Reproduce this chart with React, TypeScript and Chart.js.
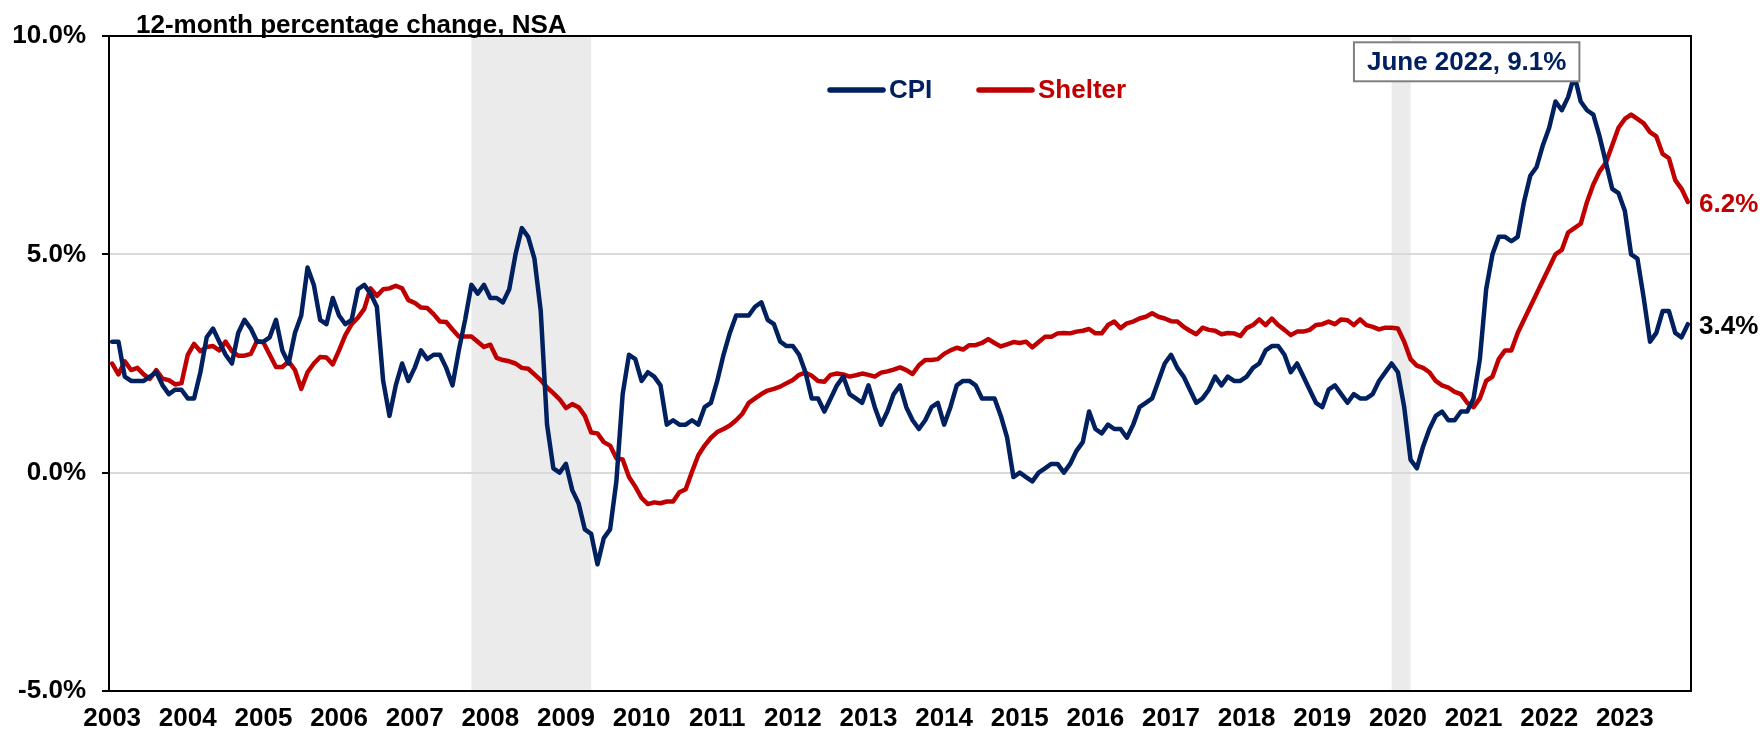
import React, { useEffect, useRef } from 'react';
import { Chart, registerables } from 'chart.js';

Chart.register(...registerables);

// ---------- DATA ----------
// Monthly observations, February 2003 through December 2023
const START_YEAR = 2003;
const START_MONTH = 2; // February

const cpiValues: number[] = [
  // 2003 (Feb-Dec)
  3.0, 3.0, 2.2, 2.1, 2.1, 2.1, 2.2, 2.3, 2.0, 1.8, 1.9,
  // 2004
  1.9, 1.7, 1.7, 2.3, 3.1, 3.3, 3.0, 2.7, 2.5, 3.2, 3.5, 3.3,
  // 2005
  3.0, 3.0, 3.1, 3.5, 2.8, 2.5, 3.2, 3.6, 4.7, 4.3, 3.5, 3.4,
  // 2006
  4.0, 3.6, 3.4, 3.5, 4.2, 4.3, 4.1, 3.8, 2.1, 1.3, 2.0, 2.5,
  // 2007
  2.1, 2.4, 2.8, 2.6, 2.7, 2.7, 2.4, 2.0, 2.8, 3.5, 4.3, 4.1,
  // 2008
  4.3, 4.0, 4.0, 3.9, 4.2, 5.0, 5.6, 5.4, 4.9, 3.7, 1.1, 0.1,
  // 2009
  0.0, 0.2, -0.4, -0.7, -1.3, -1.4, -2.1, -1.5, -1.3, -0.2, 1.8, 2.7,
  // 2010
  2.6, 2.1, 2.3, 2.2, 2.0, 1.1, 1.2, 1.1, 1.1, 1.2, 1.1, 1.5,
  // 2011
  1.6, 2.1, 2.7, 3.2, 3.6, 3.6, 3.6, 3.8, 3.9, 3.5, 3.4, 3.0,
  // 2012
  2.9, 2.9, 2.7, 2.3, 1.7, 1.7, 1.4, 1.7, 2.0, 2.2, 1.8, 1.7,
  // 2013
  1.6, 2.0, 1.5, 1.1, 1.4, 1.8, 2.0, 1.5, 1.2, 1.0, 1.2, 1.5,
  // 2014
  1.6, 1.1, 1.5, 2.0, 2.1, 2.1, 2.0, 1.7, 1.7, 1.7, 1.3, 0.8,
  // 2015
  -0.1, 0.0, -0.1, -0.2, 0.0, 0.1, 0.2, 0.2, 0.0, 0.2, 0.5, 0.7,
  // 2016
  1.4, 1.0, 0.9, 1.1, 1.0, 1.0, 0.8, 1.1, 1.5, 1.6, 1.7, 2.1,
  // 2017
  2.5, 2.7, 2.4, 2.2, 1.9, 1.6, 1.7, 1.9, 2.2, 2.0, 2.2, 2.1,
  // 2018
  2.1, 2.2, 2.4, 2.5, 2.8, 2.9, 2.9, 2.7, 2.3, 2.5, 2.2, 1.9,
  // 2019
  1.6, 1.5, 1.9, 2.0, 1.8, 1.6, 1.8, 1.7, 1.7, 1.8, 2.1, 2.3,
  // 2020
  2.5, 2.3, 1.5, 0.3, 0.1, 0.6, 1.0, 1.3, 1.4, 1.2, 1.2, 1.4,
  // 2021
  1.4, 1.7, 2.6, 4.2, 5.0, 5.4, 5.4, 5.3, 5.4, 6.2, 6.8, 7.0,
  // 2022
  7.5, 7.9, 8.5, 8.3, 8.6, 9.1, 8.5, 8.3, 8.2, 7.7, 7.1, 6.5,
  // 2023
  6.4, 6.0, 5.0, 4.9, 4.0, 3.0, 3.2, 3.7, 3.7, 3.2, 3.1, 3.4,
];

const shelterValues: number[] = [
  // 2003 (Feb-Dec)
  2.5, 2.25, 2.55, 2.35, 2.4, 2.25, 2.15, 2.35, 2.15, 2.12, 2.02,
  // 2004
  2.05, 2.7, 2.95, 2.78, 2.88, 2.9, 2.8, 3.0, 2.78, 2.68, 2.68, 2.72,
  // 2005
  3.02, 2.98, 2.7, 2.42, 2.42, 2.55, 2.35, 1.92, 2.3, 2.5, 2.65, 2.64,
  // 2006
  2.48, 2.8, 3.15, 3.4, 3.55, 3.75, 4.22, 4.05, 4.2, 4.22, 4.28, 4.22,
  // 2007
  3.95, 3.89, 3.78, 3.77, 3.63, 3.46, 3.45, 3.28, 3.12, 3.12, 3.12, 3.0,
  // 2008
  2.88, 2.93, 2.63, 2.58, 2.55, 2.5, 2.4, 2.38, 2.25, 2.12, 1.95, 1.82,
  // 2009
  1.68, 1.48, 1.57, 1.5, 1.3, 0.92, 0.9, 0.7, 0.62, 0.33, 0.3, -0.1,
  // 2010
  -0.32, -0.58, -0.72, -0.68, -0.7, -0.66, -0.66, -0.45, -0.38, 0.02, 0.4, 0.62,
  // 2011
  0.8, 0.93, 1.0, 1.08, 1.2, 1.35, 1.6, 1.7, 1.8, 1.88, 1.92, 1.97,
  // 2012
  2.05, 2.12, 2.24, 2.29, 2.22, 2.1, 2.08, 2.24, 2.27, 2.25, 2.2, 2.23,
  // 2013
  2.27, 2.24, 2.2, 2.29, 2.32, 2.36, 2.41, 2.35, 2.26, 2.46, 2.58, 2.58,
  // 2014
  2.6, 2.72, 2.8, 2.86, 2.82, 2.92, 2.92, 2.97, 3.06, 2.97, 2.89, 2.94,
  // 2015
  2.99, 2.97, 3.0, 2.87, 2.99, 3.11, 3.11, 3.19, 3.2, 3.19, 3.23, 3.25,
  // 2016
  3.29, 3.19, 3.19, 3.38, 3.46, 3.31, 3.42, 3.46, 3.53, 3.57, 3.65, 3.57,
  // 2017
  3.53, 3.47, 3.46, 3.34, 3.25, 3.17, 3.32, 3.27, 3.25, 3.17, 3.2, 3.19,
  // 2018
  3.13, 3.31, 3.38, 3.51, 3.38, 3.53, 3.38, 3.27, 3.15, 3.23, 3.23, 3.27,
  // 2019
  3.38, 3.4, 3.46, 3.4, 3.51, 3.49, 3.38, 3.51, 3.38, 3.34, 3.28, 3.32,
  // 2020
  3.32, 3.3, 3.0, 2.6, 2.45, 2.4, 2.3, 2.1, 2.0, 1.95, 1.85, 1.8,
  // 2021
  1.6, 1.5, 1.7, 2.1, 2.2, 2.6, 2.8, 2.8, 3.2, 3.5, 3.8, 4.1,
  // 2022
  4.4, 4.7, 5.0, 5.1, 5.5, 5.6, 5.7, 6.2, 6.6, 6.9, 7.1, 7.5,
  // 2023
  7.9, 8.1, 8.2, 8.1, 8.0, 7.8, 7.7, 7.3, 7.2, 6.7, 6.5, 6.2,
];

const yearLabels: string[] = [
  '2003', '2004', '2005', '2006', '2007', '2008', '2009', '2010', '2011', '2012', '2013',
  '2014', '2015', '2016', '2017', '2018', '2019', '2020', '2021', '2022', '2023',
];

// Recessions (shaded), [first month, last month] as "YYYY-MM"
const recessions: [string, string][] = [
  ['2007-12', '2009-06'],
  ['2020-02', '2020-04'],
];

const yTicks = { min: -5, max: 10, step: 5 };

const seriesNames = ['CPI', 'Shelter'];
const seriesColors = ['#002060', '#C00000'];
const titleText = '12-month percentage change, NSA';
const monthNames = ['January', 'February', 'March', 'April', 'May', 'June', 'July', 'August', 'September', 'October', 'November', 'December'];

// ---------- helpers ----------
const monthLabels: string[] = cpiValues.map((_, i) => {
  const m0 = START_MONTH - 1 + i;
  const y = START_YEAR + Math.floor(m0 / 12);
  const m = (m0 % 12) + 1;
  return `${y}-${String(m).padStart(2, '0')}`;
});
const monthIndex = (s: string) => monthLabels.indexOf(s);

const FONT = '"Liberation Sans", Arial, Helvetica, sans-serif';

const decorPlugin = {
  id: 'decor',
  beforeDraw(chart: any) {
    const { ctx, chartArea: a, scales } = chart;
    const x = scales.x;
    ctx.save();
    ctx.fillStyle = '#EBEBEB';
    recessions.forEach(([s, e]) => {
      const x0 = x.getPixelForValue(monthIndex(s) - 1);
      const x1 = x.getPixelForValue(monthIndex(e));
      ctx.fillRect(x0, a.top, x1 - x0, a.bottom - a.top);
    });
    ctx.restore();
  },
  afterDatasetsDraw(chart: any) {
    const { ctx, chartArea: a, scales } = chart;
    const x = scales.x;
    const y = scales.y;
    ctx.save();
    // plot border
    ctx.strokeStyle = '#000';
    ctx.lineWidth = 2;
    ctx.strokeRect(a.left, a.top, a.right - a.left, a.bottom - a.top);

    // peak annotation
    let pk = 0;
    cpiValues.forEach((v, i) => { if (v > cpiValues[pk]) pk = i; });
    const [yy, mm] = monthLabels[pk].split('-');
    const label = `${monthNames[Number(mm) - 1]} ${yy}, ${cpiValues[pk].toFixed(1)}%`;
    const px = x.getPixelForValue(pk);
    const py = y.getPixelForValue(cpiValues[pk]);
    ctx.font = `bold 26px ${FONT}`;
    const tw = ctx.measureText(label).width;
    const bw = tw + 26;
    const bh = 39;
    const bx = px + 5 - bw;
    const by = py + 6 - bh;
    ctx.fillStyle = '#fff';
    ctx.fillRect(bx, by, bw, bh);
    ctx.strokeStyle = '#7F7F7F';
    ctx.lineWidth = 2;
    ctx.strokeRect(bx, by, bw, bh);
    ctx.fillStyle = seriesColors[0];
    ctx.textAlign = 'center';
    ctx.textBaseline = 'middle';
    ctx.fillText(label, bx + bw / 2, by + bh / 2 + 1);
    ctx.restore();
  },
  afterDraw(chart: any) {
    const { ctx, chartArea: a, scales } = chart;
    const y = scales.y;
    ctx.save();
    // title
    ctx.font = `bold 26px ${FONT}`;
    ctx.fillStyle = '#000';
    ctx.textAlign = 'left';
    ctx.textBaseline = 'alphabetic';
    ctx.fillText(titleText, 136, 33);

    // legend
    const legendX = [830, 979];
    const legendY = 90;
    seriesNames.forEach((name, i) => {
      ctx.strokeStyle = seriesColors[i];
      ctx.lineWidth = 5.5;
      ctx.lineCap = 'round';
      ctx.beginPath();
      ctx.moveTo(legendX[i], legendY);
      ctx.lineTo(legendX[i] + 53, legendY);
      ctx.stroke();
      ctx.fillStyle = seriesColors[i];
      ctx.textBaseline = 'middle';
      ctx.font = `bold 26px ${FONT}`;
      ctx.fillText(name, legendX[i] + 59, legendY + 1);
    });

    // end-of-series labels
    ctx.font = `bold 26px ${FONT}`;
    ctx.textBaseline = 'middle';
    const lastC = cpiValues[cpiValues.length - 1];
    const lastS = shelterValues[shelterValues.length - 1];
    ctx.fillStyle = '#000';
    ctx.fillText(`${lastC.toFixed(1)}%`, a.right + 8, y.getPixelForValue(lastC) + 3);
    ctx.fillStyle = seriesColors[1];
    ctx.fillText(`${lastS.toFixed(1)}%`, a.right + 8, y.getPixelForValue(lastS) + 3);
    ctx.restore();
  },
};

export default function App() {
  const ref = useRef<HTMLCanvasElement | null>(null);

  useEffect(() => {
    if (!ref.current) return;
    const tickFont = { family: FONT, size: 26, weight: 'bold' as const };
    const chart = new Chart(ref.current, {
      type: 'line',
      data: {
        labels: monthLabels,
        datasets: [
          {
            label: seriesNames[0],
            data: cpiValues,
            borderColor: seriesColors[0],
            backgroundColor: seriesColors[0],
            borderWidth: 4.5,
            pointRadius: 0,
            tension: 0,
            borderJoinStyle: 'round',
            borderCapStyle: 'round',
          },
          {
            label: seriesNames[1],
            data: shelterValues,
            borderColor: seriesColors[1],
            backgroundColor: seriesColors[1],
            borderWidth: 4.5,
            pointRadius: 0,
            tension: 0,
            borderJoinStyle: 'round',
            borderCapStyle: 'round',
          },
        ],
      },
      options: {
        animation: false,
        responsive: false,
        maintainAspectRatio: false,
        layout: { padding: { top: 36, right: 72, left: 0, bottom: 0 } },
        plugins: {
          legend: { display: false },
          tooltip: { enabled: false },
          title: { display: false },
        },
        scales: {
          x: {
            type: 'category',
            offset: true,
            grid: { display: false, drawTicks: false },
            border: { display: false },
            ticks: {
              autoSkip: false,
              maxRotation: 0,
              minRotation: 0,
              padding: 12,
              color: '#000',
              font: tickFont,
              callback: (_v: any, i: number) => (i % 12 === 0 ? yearLabels[i / 12] : ''),
            },
            afterFit: (s: any) => { s.height = 44; },
          },
          y: {
            min: yTicks.min,
            max: yTicks.max,
            ticks: {
              stepSize: yTicks.step,
              padding: 16,
              color: '#000',
              font: tickFont,
              callback: (v: any) => `${Number(v).toFixed(1)}%`,
            },
            grid: { color: '#D9D9D9', lineWidth: 2, tickColor: '#000', tickLength: 7, tickWidth: 2 },
            border: { display: false },
            afterFit: (s: any) => { s.width = 109; },
          },
        },
      },
      plugins: [decorPlugin],
    } as any);
    return () => chart.destroy();
  }, []);

  return (
    <div style={{ position: 'absolute', left: 0, top: 0, width: 1763, height: 735, background: '#fff' }}>
      <canvas ref={ref} width={1763} height={735} style={{ display: 'block' }} />
    </div>
  );
}
